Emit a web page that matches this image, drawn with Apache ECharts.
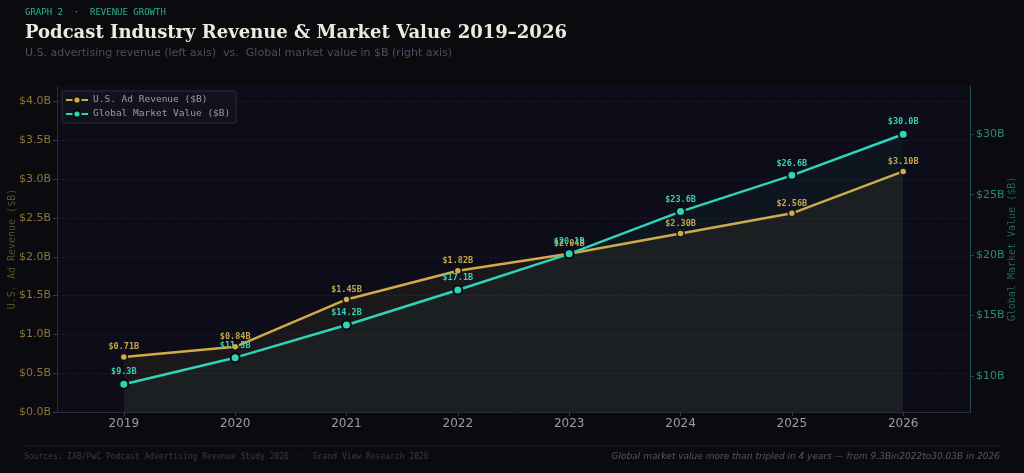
<!DOCTYPE html>
<html>
<head>
<meta charset="utf-8">
<script src="https://cdn.jsdelivr.net/npm/echarts@6/dist/echarts.min.js"></script>
<style>
html,body{margin:0;padding:0;background:#0b0b0f;}
#chart{width:1024px;height:473px;}
</style>
</head>
<body>
<div id="chart"></div>
<script>
const years = ['2019','2020','2021','2022','2023','2024','2025','2026'];
const usAdRevenue = [0.71, 0.84, 1.45, 1.82, 2.04, 2.30, 2.56, 3.10];
const globalMarket = [9.3, 11.5, 14.2, 17.1, 20.1, 23.6, 26.6, 30.0];
const leftTicks = [0, 0.5, 1.0, 1.5, 2.0, 2.5, 3.0, 3.5, 4.0];
const rightTicks = [10, 15, 20, 25, 30];

const GOLD = '#d4aa48';
const TEAL = '#2fd4b8';
const idx = years.map((_, i) => i);

const chart = echarts.init(document.getElementById('chart'), null, {renderer: 'canvas'});
chart.setOption({
  backgroundColor: '#0b0b0f',
  animation: false,
  title: [
    {text: 'GRAPH 2  ·  REVENUE GROWTH', left: 25, top: 8, padding: 0,
     textStyle: {fontFamily: 'DejaVu Sans Mono', fontSize: 9, fontWeight: 'normal', color: '#2ab58f'}},
    {text: 'Podcast Industry Revenue & Market Value 2019–2026', left: 25, top: 24, padding: 0,
     textStyle: {fontFamily: 'DejaVu Serif', fontSize: 18, fontWeight: 'bold', color: '#efeadf'}},
    {text: 'U.S. advertising revenue (left axis)  vs.  Global market value in $B (right axis)', left: 25, top: 48, padding: 0,
     textStyle: {fontFamily: 'DejaVu Sans', fontSize: 11, fontWeight: 'normal', color: '#4d4d63'}}
  ],
  graphic: [
    {type: 'line', shape: {x1: 25, y1: 446, x2: 1000, y2: 446}, style: {stroke: '#20202c', lineWidth: 1}},
    {type: 'text', left: 24, top: 453,
     style: {text: 'Sources: IAB/PwC Podcast Advertising Revenue Study 2026  ·  Grand View Research 2026',
             font: '8px "DejaVu Sans Mono"', fill: '#3a3a4a'}},
    {type: 'text', right: 24, top: 452,
     style: {text: 'Global market value more than tripled in 4 years — from 9.3Bin2022to30.03B in 2026',
             font: 'italic 9px "DejaVu Sans"', fill: '#55556a', textAlign: 'right'}}
  ],
  legend: {
    left: 62, top: 91, orient: 'vertical', itemGap: 4, itemWidth: 22, itemHeight: 9,
    padding: [4, 6, 4, 3],
    backgroundColor: '#12121d', borderColor: '#2a2a3a', borderWidth: 1, borderRadius: 2,
    textStyle: {fontFamily: 'DejaVu Sans Mono', fontSize: 9.5, color: '#9a9aaa'},
    data: ['U.S. Ad Revenue ($B)', 'Global Market Value ($B)']
  },
  grid: {left: 57, right: 54, top: 86, bottom: 61, show: true, backgroundColor: '#0d0d19', borderWidth: 0,
         containLabel: false, outerBoundsMode: 'none'},
  xAxis: {
    type: 'value', min: -0.6, max: 7.6,
    axisLine: {show: true, onZero: false, lineStyle: {color: '#2a2a3a'}},
    axisTick: {show: true, customValues: idx, length: 4, lineStyle: {color: '#3a3a4a'}},
    axisLabel: {customValues: idx, formatter: v => years[Math.round(v)], margin: 6,
                fontFamily: 'DejaVu Sans', fontSize: 12, color: '#9a9aaa'},
    splitLine: {show: false}
  },
  yAxis: [
    {
      type: 'value', min: 0, max: 4.2, interval: 0.5, position: 'left',
      name: 'U.S. Ad Revenue ($B)', nameLocation: 'middle', nameGap: 40, nameRotate: 90,
      nameMoveOverlap: false,
      nameTextStyle: {fontFamily: 'DejaVu Sans Mono', fontSize: 10, color: '#5a4f2c'},
      axisLine: {show: true, onZero: false, lineStyle: {color: '#2a2a3a'}},
      axisTick: {show: true, customValues: leftTicks, length: 4, lineStyle: {color: '#3a3a4a'}},
      axisLabel: {customValues: leftTicks, formatter: v => '$' + v.toFixed(1) + 'B', margin: 6,
                  fontFamily: 'DejaVu Sans', fontSize: 11, color: '#8a7637'},
      splitLine: {show: true, lineStyle: {color: '#1e1e2c', type: 'dashed', width: 0.8}}
    },
    {
      type: 'value', min: 7, max: 34, position: 'right',
      name: 'Global Market Value ($B)', nameLocation: 'middle', nameGap: 37, nameRotate: 90,
      nameMoveOverlap: false,
      nameTextStyle: {fontFamily: 'DejaVu Sans Mono', fontSize: 10, color: '#1f6a58'},
      axisLine: {show: true, onZero: false, lineStyle: {color: '#1e4a48'}},
      axisTick: {show: true, customValues: rightTicks, length: 4, lineStyle: {color: '#1e4a48'}},
      axisLabel: {customValues: rightTicks, formatter: v => '$' + v + 'B', margin: 6,
                  fontFamily: 'DejaVu Sans', fontSize: 11, color: '#2a8a70'},
      splitLine: {show: false}
    }
  ],
  series: [
    {
      name: 'U.S. Ad Revenue ($B)', type: 'line', yAxisIndex: 0,
      data: usAdRevenue.map((v, i) => [i, v]),
      symbol: 'circle', symbolSize: 7,
      lineStyle: {color: GOLD, width: 2.5},
      itemStyle: {color: GOLD, borderColor: '#121212', borderWidth: 1.5},
      areaStyle: {color: 'rgba(212,170,72,0.10)', origin: 'start'},
      label: {show: true, position: 'top', distance: 1,
              formatter: p => '$' + p.value[1].toFixed(2) + 'B',
              fontFamily: 'DejaVu Sans Mono', fontSize: 8.5, fontWeight: 'bold', color: '#c8a64c'},
      z: 2
    },
    {
      name: 'Global Market Value ($B)', type: 'line', yAxisIndex: 1,
      data: globalMarket.map((v, i) => [i, v]),
      symbol: 'circle', symbolSize: 9,
      lineStyle: {color: TEAL, width: 2.5},
      itemStyle: {color: TEAL, borderColor: '#0a0a10', borderWidth: 2},
      areaStyle: {color: 'rgba(47,212,184,0.06)', origin: 'start'},
      label: {show: true, position: 'top', distance: 2,
              formatter: p => '$' + p.value[1].toFixed(1) + 'B',
              fontFamily: 'DejaVu Sans Mono', fontSize: 8.5, fontWeight: 'bold', color: '#3ad0b4'},
      z: 3
    }
  ]
});
</script>
</body>
</html>
